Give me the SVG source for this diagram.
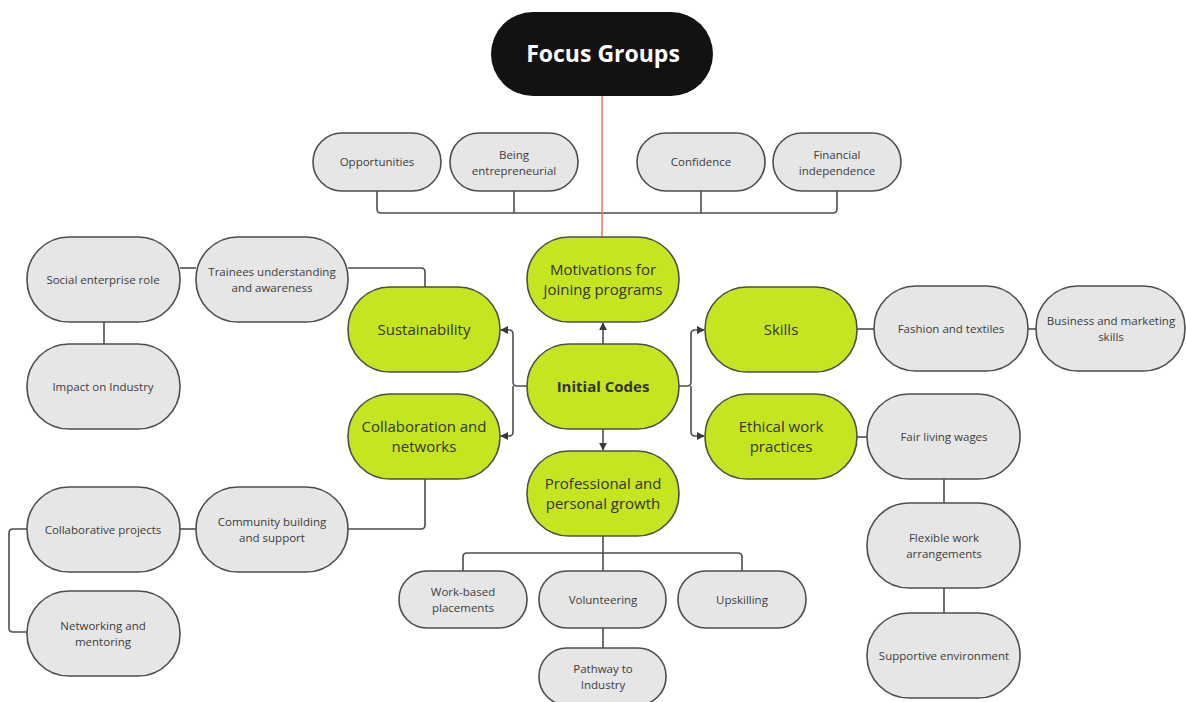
<svg xmlns="http://www.w3.org/2000/svg" width="1186" height="702" viewBox="0 0 1186 702">
  <defs>
    <marker id="arrow" viewBox="0 0 10 10" refX="9" refY="5" markerWidth="8" markerHeight="8" markerUnits="userSpaceOnUse" orient="auto">
      <path d="M0 0 L10 5 L0 10 Z" fill="#3a3a3a"/>
    </marker>
    <style>
      .grey rect { fill: #e6e6e6; stroke: #4d4d4d; stroke-width: 1.6; }
      .green rect { fill: #c5e520; stroke: #4d4d4d; stroke-width: 1.6; }
      .grey text { font-family: "Open Sans", "Noto Sans", sans-serif; font-size: 11.5px; fill: #3c3c3c; text-anchor: middle; }
      .green text { font-family: "Open Sans", "Noto Sans", sans-serif; font-size: 15px; fill: #333; text-anchor: middle; }
      .links path { fill: none; stroke: #4d4d4d; stroke-width: 1.6; }
      .links .arr { marker-end: url(#arrow); }
    </style>
  </defs>
  <rect width="1186" height="702" fill="#ffffff"/>

  <!-- connectors -->
  <g id="connectors" class="links">
    <path d="M377 191 V209 Q377 213 381 213 H833 Q837 213 837 209 V191"/>
    <path d="M514 191 V213"/>
    <path d="M701 191 V213"/>
    <path d="M602 96 V237" style="stroke:#f07a68;stroke-width:1.6"/>
    <path class="arr" d="M603 344 V323"/>
    <path class="arr" d="M603 429 V450"/>
    <path class="arr" d="M527 386 H517 Q513 386 513 382 V334 Q513 330 509 330 H501"/>
    <path class="arr" d="M513 386 V432 Q513 436 509 436 H501"/>
    <path class="arr" d="M679 386 H687 Q691 386 691 382 V334 Q691 330 695 330 H704"/>
    <path class="arr" d="M691 386 V432 Q691 436 695 436 H704"/>
    <path d="M348 268 H421 Q425 268 425 272 V287"/>
    <path d="M180 268 H196"/>
    <path d="M104 322 V344"/>
    <path d="M425 479 V525 Q425 529 421 529 H348"/>
    <path d="M180 529 H196"/>
    <path d="M27 529 H13 Q9 529 9 533 V628 Q9 632 13 632 H27"/>
    <path d="M603 536 V571"/>
    <path d="M463 571 V557 Q463 553 467 553 H738 Q742 553 742 557 V571"/>
    <path d="M603 628 V648"/>
    <path d="M857 329 H874"/>
    <path d="M1028 329 H1036"/>
    <path d="M857 437 H867"/>
    <path d="M944 479 V503"/>
    <path d="M944 588 V613"/>
  </g>

  <!-- root -->
  <g id="focus-groups">
    <rect x="491" y="12" width="222" height="84" rx="42" fill="#121212"/>
    <text x="603" y="62" font-family="'Open Sans', 'Noto Sans', sans-serif" font-size="23" font-weight="bold" fill="#ffffff" text-anchor="middle">Focus Groups</text>
  </g>

  <!-- top row -->
  <g id="opportunities" class="grey"><rect x="313" y="133" width="128" height="58" rx="29"/><text x="377" y="166">Opportunities</text></g>
  <g id="being-entrepreneurial" class="grey"><rect x="450" y="133" width="128" height="58" rx="29"/><text x="514" y="159">Being</text><text x="514" y="175">entrepreneurial</text></g>
  <g id="confidence" class="grey"><rect x="637" y="133" width="128" height="58" rx="29"/><text x="701" y="166">Confidence</text></g>
  <g id="financial-independence" class="grey"><rect x="773" y="133" width="128" height="58" rx="29"/><text x="837" y="159">Financial</text><text x="837" y="175">independence</text></g>

  <!-- central codes -->
  <g id="motivations" class="green"><rect x="527" y="237" width="152" height="85" rx="42"/><text x="603" y="275">Motivations for</text><text x="603" y="295">joining programs</text></g>
  <g id="initial-codes" class="green"><rect x="527" y="344" width="152" height="85" rx="42"/><text x="603" y="392" font-size="16" font-weight="bold" fill="#222">Initial Codes</text></g>
  <g id="professional-growth" class="green"><rect x="527" y="451" width="152" height="85" rx="42"/><text x="603" y="489">Professional and</text><text x="603" y="509">personal growth</text></g>
  <g id="sustainability" class="green"><rect x="348" y="287" width="152" height="85" rx="42"/><text x="424" y="335">Sustainability</text></g>
  <g id="collaboration" class="green"><rect x="348" y="394" width="152" height="85" rx="42"/><text x="424" y="432">Collaboration and</text><text x="424" y="452">networks</text></g>
  <g id="skills" class="green"><rect x="705" y="287" width="152" height="85" rx="42"/><text x="781" y="335">Skills</text></g>
  <g id="ethical-work" class="green"><rect x="705" y="394" width="152" height="85" rx="42"/><text x="781" y="432">Ethical work</text><text x="781" y="452">practices</text></g>

  <!-- sustainability branch -->
  <g id="social-enterprise" class="grey"><rect x="27" y="237" width="153" height="85" rx="42"/><text x="103" y="284">Social enterprise role</text></g>
  <g id="trainees-understanding" class="grey"><rect x="196" y="237" width="152" height="85" rx="42"/><text x="272" y="276">Trainees understanding</text><text x="272" y="292">and awareness</text></g>
  <g id="impact-industry" class="grey"><rect x="27" y="344" width="153" height="85" rx="42"/><text x="103" y="391">Impact on Industry</text></g>

  <!-- collaboration branch -->
  <g id="collaborative-projects" class="grey"><rect x="27" y="487" width="153" height="85" rx="42"/><text x="103" y="534">Collaborative projects</text></g>
  <g id="community-building" class="grey"><rect x="196" y="487" width="152" height="85" rx="42"/><text x="272" y="526">Community building</text><text x="272" y="542">and support</text></g>
  <g id="networking-mentoring" class="grey"><rect x="27" y="591" width="153" height="85" rx="42"/><text x="103" y="630">Networking and</text><text x="103" y="646">mentoring</text></g>

  <!-- growth branch -->
  <g id="work-based" class="grey"><rect x="399" y="571" width="128" height="57" rx="28"/><text x="463" y="596">Work-based</text><text x="463" y="612">placements</text></g>
  <g id="volunteering" class="grey"><rect x="539" y="571" width="127" height="57" rx="28"/><text x="603" y="604">Volunteering</text></g>
  <g id="upskilling" class="grey"><rect x="678" y="571" width="128" height="57" rx="28"/><text x="742" y="604">Upskilling</text></g>
  <g id="pathway-industry" class="grey"><rect x="539" y="648" width="127" height="57" rx="28"/><text x="603" y="673">Pathway to</text><text x="603" y="689">Industry</text></g>

  <!-- skills branch -->
  <g id="fashion-textiles" class="grey"><rect x="874" y="286" width="154" height="85" rx="42"/><text x="951" y="333">Fashion and textiles</text></g>
  <g id="business-marketing" class="grey"><rect x="1036" y="286" width="149" height="85" rx="42"/><text x="1111" y="325">Business and marketing</text><text x="1111" y="341">skills</text></g>

  <!-- ethical work branch -->
  <g id="fair-wages" class="grey"><rect x="867" y="394" width="153" height="85" rx="42"/><text x="944" y="441">Fair living wages</text></g>
  <g id="flexible-work" class="grey"><rect x="867" y="503" width="153" height="85" rx="42"/><text x="944" y="542">Flexible work</text><text x="944" y="558">arrangements</text></g>
  <g id="supportive-environment" class="grey"><rect x="867" y="613" width="153" height="85" rx="42"/><text x="944" y="660">Supportive environment</text></g>
</svg>
